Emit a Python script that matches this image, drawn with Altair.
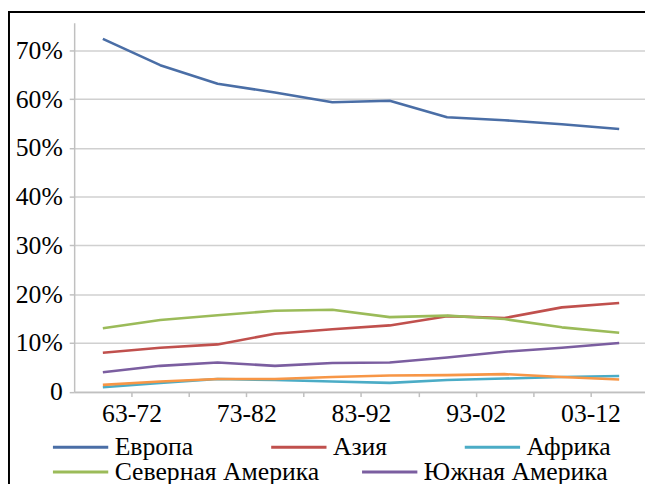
import altair as alt
import pandas as pd

# period index 0..9 (two points per decade label)
periods = list(range(10))
x_labels = ["63-72", "", "73-82", "", "83-92", "", "93-02", "", "03-12"]
y_ticks = [0, 10, 20, 30, 40, 50, 60, 70]

names = ["Европа", "Азия", "Африка", "Северная Америка", "Южная Америка", "Океания"]
colors = ["#4a6ea6", "#c0504d", "#4bacc6", "#9bbb59", "#7b5ea0", "#f79646"]

europe = [72.4, 67.0, 63.2, 61.4, 59.4, 59.7, 56.3, 55.7, 54.9, 53.9]
asia = [8.0, 9.0, 9.7, 11.9, 12.8, 13.6, 15.5, 15.1, 17.3, 18.2]
africa = [0.9, 1.8, 2.6, 2.4, 2.1, 1.8, 2.4, 2.7, 3.0, 3.2]
n_america = [13.0, 14.7, 15.7, 16.6, 16.8, 15.3, 15.6, 14.9, 13.2, 12.1]
s_america = [4.0, 5.3, 6.0, 5.3, 5.9, 6.0, 7.0, 8.2, 9.0, 10.0]
oceania = [1.4, 2.1, 2.6, 2.6, 3.0, 3.3, 3.4, 3.6, 3.0, 2.5]

series = [europe, asia, africa, n_america, s_america, oceania]
rows = []
for k, (name, vals) in enumerate(zip(names, series)):
    for i, v in zip(periods, vals):
        rows.append({"i": i, "v": v, "s": name, "o": k})
df = pd.DataFrame(rows)

W = 578
H = 373.5
FONT = "Liberation Serif, Times New Roman, serif"

label_js = "[" + ",".join("'%s'" % t for t in x_labels) + "]"

x_enc = alt.X(
    "i:Q",
    scale=alt.Scale(domain=[-0.5, 9.45], nice=False, zero=False),
    axis=alt.Axis(
        values=[k + 0.5 for k in range(9)],
        labelExpr=label_js + "[round(datum.value - 0.5)]",
        title=None,
        grid=False,
        domainColor="#c0c0c0",
        domainWidth=1.5,
        tickColor="#c0c0c0",
        tickWidth=1.5,
        tickSize=5,
        labelFont=FONT,
        labelFontSize=26,
        labelColor="black",
        labelPadding=4,
        labelOverlap=False,
        labelFlush=False,
    ),
)
y_enc = alt.Y(
    "v:Q",
    scale=alt.Scale(domain=[0, 75.7], nice=False),
    axis=alt.Axis(
        values=y_ticks,
        labelExpr="datum.value == 0 ? '0' : datum.value + '%'",
        title=None,
        grid=True,
        gridColor="#d0d0d0",
        gridWidth=1.5,
        domainColor="#c0c0c0",
        domainWidth=1.5,
        tickColor="#c0c0c0",
        tickWidth=1.5,
        tickSize=5,
        labelFont=FONT,
        labelFontSize=26,
        labelColor="black",
        labelPadding=7,
    ),
)


def legend(vals, y, pad):
    return alt.Legend(
        values=vals,
        orient="none",
        legendX=-23,
        legendY=y,
        direction="horizontal",
        columnPadding=pad,
        symbolType="stroke",
        symbolSize=3136,
        symbolStrokeWidth=3,
        labelFont=FONT,
        labelFontSize=26,
        labelColor="black",
        labelOffset=5,
        labelLimit=400,
        title=None,
    )


row1 = names[:3]
row2 = names[3:]

lines1 = alt.Chart(df).transform_filter(
    alt.FieldOneOfPredicate(field="s", oneOf=row1)
).mark_line(strokeWidth=2.6, strokeJoin="round").encode(
    x=x_enc,
    y=y_enc,
    color=alt.Color("s:N", scale=alt.Scale(domain=row1, range=colors[:3]),
                    legend=legend(row1, 400, 72)),
)
lines2 = alt.Chart(df).transform_filter(
    alt.FieldOneOfPredicate(field="s", oneOf=row2)
).mark_line(strokeWidth=2.6, strokeJoin="round").encode(
    x=x_enc,
    y=y_enc,
    color=alt.Color("s:N", scale=alt.Scale(domain=row2, range=colors[3:]),
                    legend=legend(row2[:2], 425, 36)),
)

frame_df = pd.DataFrame({"a": [0]})
top_border = alt.Chart(frame_df).mark_rule(color="black", strokeWidth=2).encode(
    x=alt.value(-67), x2=alt.value(W), y=alt.value(-11)
)
left_border = alt.Chart(frame_df).mark_rule(color="black", strokeWidth=2).encode(
    x=alt.value(-66), y=alt.value(-12), y2=alt.value(H + 110)
)

chart = alt.layer(lines1, lines2, top_border, left_border).resolve_scale(
    color="independent"
).properties(
    width=W,
    height=H,
    autosize=alt.AutoSizeParams(type="none"),
    padding={"left": 67, "top": 12, "right": 0, "bottom": 90.5},
).configure_view(stroke=None)

chart.save("out.html", embed_options={"renderer": "svg", "actions": False})
